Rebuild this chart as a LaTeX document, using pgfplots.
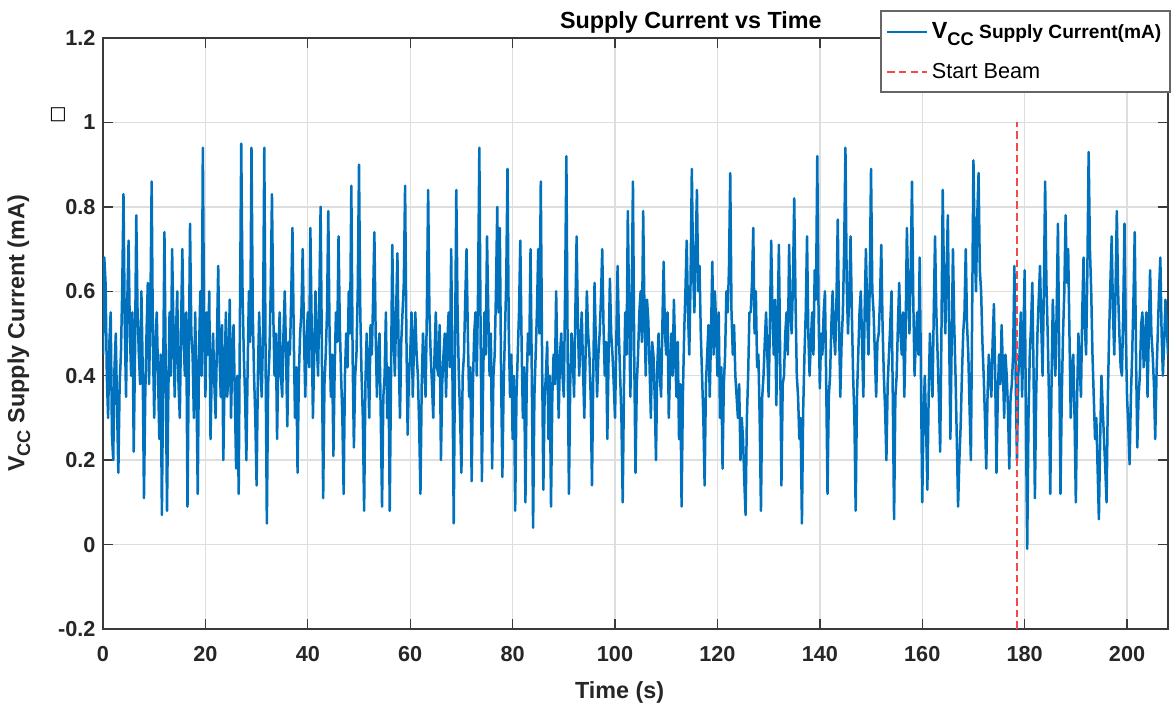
\documentclass[border=0pt]{standalone}
\usepackage{fontspec}
\setmainfont{Liberation Sans}
\newfontfamily\dejavu{DejaVu Sans}
\usepackage{pgfplots}
\usepackage{pgfplotstable}
\pgfplotsset{compat=1.18}
\definecolor{matBlue}{HTML}{0072BD}
\definecolor{beamRed}{HTML}{F24A4A}
\definecolor{gridGray}{HTML}{DEDEDE}
\definecolor{boxGray}{HTML}{3A3A3A}

% supply current samples, every 0.25 s
\pgfplotstableread[row sep=\\]{
t v\\
0 0.45\\ 0.25 0.68\\ 0.5 0.62\\ 0.75 0.40\\ 1 0.30\\ 1.25 0.48\\ 1.5 0.55\\ 1.75 0.26\\ 2 0.20\\ 2.25 0.42\\ 2.5 0.50\\ 2.75 0.32\\ 3 0.17\\ 3.25 0.38\\ 3.5 0.45\\ 3.75 0.60\\ 4 0.83\\ 4.25 0.52\\ 4.5 0.35\\ 4.75 0.58\\
5 0.72\\ 5.25 0.50\\ 5.5 0.40\\ 5.75 0.55\\ 6 0.22\\ 6.25 0.45\\ 6.5 0.78\\ 6.75 0.55\\ 7 0.45\\ 7.25 0.38\\ 7.5 0.60\\ 7.75 0.42\\ 8 0.11\\ 8.25 0.35\\ 8.5 0.50\\ 8.75 0.62\\ 9 0.38\\ 9.25 0.55\\ 9.5 0.86\\ 9.75 0.48\\
10 0.30\\ 10.25 0.48\\ 10.5 0.55\\ 10.75 0.40\\ 11 0.25\\ 11.25 0.45\\ 11.5 0.07\\ 11.75 0.40\\ 12 0.74\\ 12.25 0.42\\ 12.5 0.08\\ 12.75 0.35\\ 13 0.55\\ 13.25 0.40\\ 13.5 0.70\\ 13.75 0.52\\ 14 0.35\\ 14.25 0.50\\ 14.5 0.60\\ 14.75 0.38\\
15 0.30\\ 15.25 0.52\\ 15.5 0.70\\ 15.75 0.48\\ 16 0.40\\ 16.25 0.55\\ 16.5 0.09\\ 16.75 0.42\\ 17 0.76\\ 17.25 0.50\\ 17.5 0.45\\ 17.75 0.30\\ 18 0.55\\ 18.25 0.38\\ 18.5 0.12\\ 18.75 0.45\\ 19 0.60\\ 19.25 0.40\\ 19.5 0.94\\ 19.75 0.50\\
20 0.35\\ 20.25 0.55\\ 20.5 0.45\\ 20.75 0.60\\ 21 0.25\\ 21.25 0.42\\ 21.5 0.50\\ 21.75 0.38\\ 22 0.30\\ 22.25 0.48\\ 22.5 0.66\\ 22.75 0.45\\ 23 0.35\\ 23.25 0.52\\ 23.5 0.20\\ 23.75 0.40\\ 24 0.55\\ 24.25 0.35\\ 24.5 0.40\\ 24.75 0.58\\
25 0.30\\ 25.25 0.45\\ 25.5 0.52\\ 25.75 0.35\\ 26 0.18\\ 26.25 0.40\\ 26.5 0.12\\ 26.75 0.55\\ 27 0.95\\ 27.25 0.60\\ 27.5 0.45\\ 27.75 0.35\\ 28 0.20\\ 28.25 0.42\\ 28.5 0.60\\ 28.75 0.48\\ 29 0.94\\ 29.25 0.55\\ 29.5 0.40\\ 29.75 0.30\\
30 0.14\\ 30.25 0.40\\ 30.5 0.55\\ 30.75 0.42\\ 31 0.35\\ 31.25 0.50\\ 31.5 0.94\\ 31.75 0.45\\ 32 0.05\\ 32.25 0.38\\ 32.5 0.45\\ 32.75 0.60\\ 33 0.83\\ 33.25 0.55\\ 33.5 0.40\\ 33.75 0.50\\ 34 0.25\\ 34.25 0.45\\ 34.5 0.55\\ 34.75 0.40\\
35 0.35\\ 35.25 0.50\\ 35.5 0.60\\ 35.75 0.45\\ 36 0.28\\ 36.25 0.48\\ 36.5 0.45\\ 36.75 0.58\\ 37 0.75\\ 37.25 0.50\\ 37.5 0.30\\ 37.75 0.42\\ 38 0.17\\ 38.25 0.40\\ 38.5 0.50\\ 38.75 0.55\\ 39 0.70\\ 39.25 0.50\\ 39.5 0.35\\ 39.75 0.48\\
40 0.55\\ 40.25 0.42\\ 40.5 0.75\\ 40.75 0.52\\ 41 0.30\\ 41.25 0.45\\ 41.5 0.60\\ 41.75 0.48\\ 42 0.40\\ 42.25 0.58\\ 42.5 0.80\\ 42.75 0.45\\ 43 0.11\\ 43.25 0.38\\ 43.5 0.45\\ 43.75 0.55\\ 44 0.79\\ 44.25 0.50\\ 44.5 0.35\\ 44.75 0.45\\
45 0.21\\ 45.25 0.42\\ 45.5 0.55\\ 45.75 0.48\\ 46 0.73\\ 46.25 0.52\\ 46.5 0.40\\ 46.75 0.30\\ 47 0.12\\ 47.25 0.40\\ 47.5 0.50\\ 47.75 0.42\\ 48 0.60\\ 48.25 0.50\\ 48.5 0.85\\ 48.75 0.45\\ 49 0.23\\ 49.25 0.40\\ 49.5 0.45\\ 49.75 0.60\\
50 0.90\\ 50.25 0.55\\ 50.5 0.40\\ 50.75 0.30\\ 51 0.08\\ 51.25 0.38\\ 51.5 0.50\\ 51.75 0.42\\ 52 0.30\\ 52.25 0.52\\ 52.5 0.45\\ 52.75 0.58\\ 53 0.74\\ 53.25 0.50\\ 53.5 0.35\\ 53.75 0.45\\ 54 0.50\\ 54.25 0.30\\ 54.5 0.09\\ 54.75 0.35\\
55 0.40\\ 55.25 0.55\\ 55.5 0.30\\ 55.75 0.42\\ 56 0.08\\ 56.25 0.40\\ 56.5 0.71\\ 56.75 0.50\\ 57 0.40\\ 57.25 0.55\\ 57.5 0.69\\ 57.75 0.45\\ 58 0.30\\ 58.25 0.48\\ 58.5 0.55\\ 58.75 0.62\\ 59 0.85\\ 59.25 0.50\\ 59.5 0.26\\ 59.75 0.40\\
60 0.45\\ 60.25 0.55\\ 60.5 0.35\\ 60.75 0.48\\ 61 0.55\\ 61.25 0.45\\ 61.5 0.40\\ 61.75 0.28\\ 62 0.12\\ 62.25 0.38\\ 62.5 0.50\\ 62.75 0.42\\ 63 0.35\\ 63.25 0.55\\ 63.5 0.84\\ 63.75 0.55\\ 64 0.45\\ 64.25 0.38\\ 64.5 0.30\\ 64.75 0.45\\
65 0.55\\ 65.25 0.42\\ 65.5 0.40\\ 65.75 0.52\\ 66 0.20\\ 66.25 0.38\\ 66.5 0.45\\ 66.75 0.50\\ 67 0.35\\ 67.25 0.48\\ 67.5 0.55\\ 67.75 0.42\\ 68 0.70\\ 68.25 0.40\\ 68.5 0.05\\ 68.75 0.45\\ 69 0.84\\ 69.25 0.55\\ 69.5 0.40\\ 69.75 0.30\\
70 0.17\\ 70.25 0.40\\ 70.5 0.45\\ 70.75 0.58\\ 71 0.70\\ 71.25 0.50\\ 71.5 0.35\\ 71.75 0.42\\ 72 0.15\\ 72.25 0.38\\ 72.5 0.50\\ 72.75 0.55\\ 73 0.40\\ 73.25 0.60\\ 73.5 0.94\\ 73.75 0.50\\ 74 0.15\\ 74.25 0.40\\ 74.5 0.55\\ 74.75 0.45\\
75 0.73\\ 75.25 0.55\\ 75.5 0.40\\ 75.75 0.50\\ 76 0.18\\ 76.25 0.40\\ 76.5 0.45\\ 76.75 0.60\\ 77 0.80\\ 77.25 0.55\\ 77.5 0.75\\ 77.75 0.40\\ 78 0.16\\ 78.25 0.38\\ 78.5 0.50\\ 78.75 0.62\\ 79 0.89\\ 79.25 0.50\\ 79.5 0.35\\ 79.75 0.45\\
80 0.25\\ 80.25 0.40\\ 80.5 0.08\\ 80.75 0.35\\ 81 0.45\\ 81.25 0.55\\ 81.5 0.72\\ 81.75 0.48\\ 82 0.30\\ 82.25 0.42\\ 82.5 0.10\\ 82.75 0.38\\ 83 0.50\\ 83.25 0.45\\ 83.5 0.70\\ 83.75 0.40\\ 84 0.04\\ 84.25 0.35\\ 84.5 0.45\\ 84.75 0.55\\
85 0.70\\ 85.25 0.50\\ 85.5 0.86\\ 85.75 0.45\\ 86 0.13\\ 86.25 0.35\\ 86.5 0.40\\ 86.75 0.48\\ 87 0.25\\ 87.25 0.40\\ 87.5 0.09\\ 87.75 0.35\\ 88 0.45\\ 88.25 0.38\\ 88.5 0.60\\ 88.75 0.42\\ 89 0.30\\ 89.25 0.45\\ 89.5 0.50\\ 89.75 0.40\\
90 0.35\\ 90.25 0.60\\ 90.5 0.92\\ 90.75 0.45\\ 91 0.12\\ 91.25 0.38\\ 91.5 0.50\\ 91.75 0.45\\ 92 0.35\\ 92.25 0.55\\ 92.5 0.73\\ 92.75 0.52\\ 93 0.40\\ 93.25 0.48\\ 93.5 0.55\\ 93.75 0.42\\ 94 0.30\\ 94.25 0.45\\ 94.5 0.60\\ 94.75 0.50\\
95 0.45\\ 95.25 0.35\\ 95.5 0.14\\ 95.75 0.40\\ 96 0.62\\ 96.25 0.48\\ 96.5 0.35\\ 96.75 0.45\\ 97 0.50\\ 97.25 0.58\\ 97.5 0.70\\ 97.75 0.52\\ 98 0.40\\ 98.25 0.48\\ 98.5 0.25\\ 98.75 0.45\\ 99 0.63\\ 99.25 0.50\\ 99.5 0.45\\ 99.75 0.38\\
100 0.30\\ 100.25 0.48\\ 100.5 0.66\\ 100.75 0.50\\ 101 0.40\\ 101.25 0.30\\ 101.5 0.10\\ 101.75 0.38\\ 102 0.55\\ 102.25 0.45\\ 102.5 0.79\\ 102.75 0.55\\ 103 0.35\\ 103.25 0.58\\ 103.5 0.86\\ 103.75 0.45\\ 104 0.17\\ 104.25 0.38\\ 104.5 0.45\\ 104.75 0.55\\
105 0.60\\ 105.25 0.48\\ 105.5 0.79\\ 105.75 0.55\\ 106 0.40\\ 106.25 0.58\\ 106.5 0.53\\ 106.75 0.42\\ 107 0.30\\ 107.25 0.48\\ 107.5 0.45\\ 107.75 0.35\\ 108 0.20\\ 108.25 0.42\\ 108.5 0.50\\ 108.75 0.40\\ 109 0.35\\ 109.25 0.52\\ 109.5 0.67\\ 109.75 0.50\\
110 0.45\\ 110.25 0.55\\ 110.5 0.30\\ 110.75 0.42\\ 111 0.50\\ 111.25 0.40\\ 111.5 0.58\\ 111.75 0.45\\ 112 0.35\\ 112.25 0.48\\ 112.5 0.25\\ 112.75 0.38\\ 113 0.09\\ 113.25 0.35\\ 113.5 0.50\\ 113.75 0.60\\ 114 0.72\\ 114.25 0.55\\ 114.5 0.45\\ 114.75 0.62\\
115 0.89\\ 115.25 0.65\\ 115.5 0.55\\ 115.75 0.70\\ 116 0.84\\ 116.25 0.60\\ 116.5 0.66\\ 116.75 0.50\\ 117 0.40\\ 117.25 0.30\\ 117.5 0.14\\ 117.75 0.38\\ 118 0.45\\ 118.25 0.52\\ 118.5 0.35\\ 118.75 0.50\\ 119 0.67\\ 119.25 0.45\\ 119.5 0.60\\ 119.75 0.52\\
120 0.40\\ 120.25 0.55\\ 120.5 0.30\\ 120.75 0.42\\ 121 0.18\\ 121.25 0.38\\ 121.5 0.45\\ 121.75 0.60\\ 122 0.55\\ 122.25 0.65\\ 122.5 0.88\\ 122.75 0.55\\ 123 0.45\\ 123.25 0.52\\ 123.5 0.40\\ 123.75 0.35\\ 124 0.30\\ 124.25 0.38\\ 124.5 0.20\\ 124.75 0.30\\
125 0.25\\ 125.25 0.15\\ 125.5 0.07\\ 125.75 0.30\\ 126 0.40\\ 126.25 0.55\\ 126.5 0.55\\ 126.75 0.62\\ 127 0.75\\ 127.25 0.50\\ 127.5 0.60\\ 127.75 0.42\\ 128 0.45\\ 128.25 0.30\\ 128.5 0.08\\ 128.75 0.35\\ 129 0.40\\ 129.25 0.48\\ 129.5 0.55\\ 129.75 0.45\\
130 0.35\\ 130.25 0.52\\ 130.5 0.72\\ 130.75 0.55\\ 131 0.45\\ 131.25 0.58\\ 131.5 0.33\\ 131.75 0.50\\ 132 0.71\\ 132.25 0.45\\ 132.5 0.14\\ 132.75 0.38\\ 133 0.40\\ 133.25 0.50\\ 133.5 0.55\\ 133.75 0.45\\ 134 0.71\\ 134.25 0.55\\ 134.5 0.50\\ 134.75 0.62\\
135 0.82\\ 135.25 0.58\\ 135.5 0.40\\ 135.75 0.35\\ 136 0.25\\ 136.25 0.30\\ 136.5 0.05\\ 136.75 0.32\\ 137 0.45\\ 137.25 0.55\\ 137.5 0.73\\ 137.75 0.50\\ 138 0.40\\ 138.25 0.48\\ 138.5 0.55\\ 138.75 0.45\\ 139 0.65\\ 139.25 0.58\\ 139.5 0.92\\ 139.75 0.55\\
140 0.37\\ 140.25 0.50\\ 140.5 0.45\\ 140.75 0.55\\ 141 0.60\\ 141.25 0.38\\ 141.5 0.12\\ 141.75 0.35\\ 142 0.40\\ 142.25 0.52\\ 142.5 0.60\\ 142.75 0.50\\ 143 0.45\\ 143.25 0.58\\ 143.5 0.77\\ 143.75 0.52\\ 144 0.35\\ 144.25 0.48\\ 144.5 0.55\\ 144.75 0.70\\
145 0.94\\ 145.25 0.62\\ 145.5 0.50\\ 145.75 0.60\\ 146 0.73\\ 146.25 0.55\\ 146.5 0.40\\ 146.75 0.30\\ 147 0.08\\ 147.25 0.35\\ 147.5 0.45\\ 147.75 0.55\\ 148 0.60\\ 148.25 0.48\\ 148.5 0.35\\ 148.75 0.55\\ 149 0.70\\ 149.25 0.55\\ 149.5 0.45\\ 149.75 0.62\\
150 0.89\\ 150.25 0.60\\ 150.5 0.55\\ 150.75 0.45\\ 151 0.35\\ 151.25 0.48\\ 151.5 0.50\\ 151.75 0.58\\ 152 0.71\\ 152.25 0.52\\ 152.5 0.40\\ 152.75 0.32\\ 153 0.20\\ 153.25 0.38\\ 153.5 0.45\\ 153.75 0.52\\ 154 0.60\\ 154.25 0.35\\ 154.5 0.06\\ 154.75 0.35\\
155 0.40\\ 155.25 0.52\\ 155.5 0.62\\ 155.75 0.50\\ 156 0.45\\ 156.25 0.55\\ 156.5 0.35\\ 156.75 0.50\\ 157 0.75\\ 157.25 0.60\\ 157.5 0.50\\ 157.75 0.65\\ 158 0.86\\ 158.25 0.58\\ 158.5 0.40\\ 158.75 0.48\\ 159 0.55\\ 159.25 0.45\\ 159.5 0.68\\ 159.75 0.40\\
160 0.10\\ 160.25 0.30\\ 160.5 0.40\\ 160.75 0.28\\ 161 0.13\\ 161.25 0.35\\ 161.5 0.50\\ 161.75 0.42\\ 162 0.35\\ 162.25 0.55\\ 162.5 0.73\\ 162.75 0.55\\ 163 0.45\\ 163.25 0.35\\ 163.5 0.22\\ 163.75 0.50\\ 164 0.84\\ 164.25 0.62\\ 164.5 0.50\\ 164.75 0.65\\
165 0.78\\ 165.25 0.50\\ 165.5 0.25\\ 165.75 0.48\\ 166 0.70\\ 166.25 0.52\\ 166.5 0.40\\ 166.75 0.25\\ 167 0.09\\ 167.25 0.20\\ 167.5 0.28\\ 167.75 0.40\\ 168 0.50\\ 168.25 0.55\\ 168.5 0.70\\ 168.75 0.52\\ 169 0.45\\ 169.25 0.32\\ 169.5 0.20\\ 169.75 0.55\\
170 0.91\\ 170.25 0.70\\ 170.5 0.60\\ 170.75 0.78\\ 171 0.88\\ 171.25 0.65\\ 171.5 0.60\\ 171.75 0.48\\ 172 0.40\\ 172.25 0.30\\ 172.5 0.18\\ 172.75 0.35\\ 173 0.45\\ 173.25 0.40\\ 173.5 0.35\\ 173.75 0.48\\ 174 0.57\\ 174.25 0.40\\ 174.5 0.17\\ 174.75 0.35\\
175 0.45\\ 175.25 0.38\\ 175.5 0.52\\ 175.75 0.42\\ 176 0.30\\ 176.25 0.45\\ 176.5 0.40\\ 176.75 0.32\\ 177 0.18\\ 177.25 0.35\\ 177.5 0.38\\ 177.75 0.45\\ 178 0.66\\ 178.25 0.40\\ 178.5 0.20\\ 178.75 0.40\\ 179 0.45\\ 179.25 0.55\\ 179.5 0.35\\ 179.75 0.48\\
180 0.65\\ 180.25 0.30\\ 180.5 -0.01\\ 180.75 0.30\\ 181 0.45\\ 181.25 0.52\\ 181.5 0.62\\ 181.75 0.40\\ 182 0.11\\ 182.25 0.35\\ 182.5 0.50\\ 182.75 0.58\\ 183 0.66\\ 183.25 0.52\\ 183.5 0.40\\ 183.75 0.60\\ 184 0.86\\ 184.25 0.62\\ 184.5 0.50\\ 184.75 0.35\\
185 0.12\\ 185.25 0.38\\ 185.5 0.58\\ 185.75 0.48\\ 186 0.40\\ 186.25 0.55\\ 186.5 0.76\\ 186.75 0.45\\ 187 0.12\\ 187.25 0.35\\ 187.5 0.50\\ 187.75 0.60\\ 188 0.78\\ 188.25 0.62\\ 188.5 0.70\\ 188.75 0.50\\ 189 0.30\\ 189.25 0.42\\ 189.5 0.45\\ 189.75 0.30\\
190 0.10\\ 190.25 0.35\\ 190.5 0.50\\ 190.75 0.42\\ 191 0.35\\ 191.25 0.55\\ 191.5 0.68\\ 191.75 0.52\\ 192 0.45\\ 192.25 0.65\\ 192.5 0.93\\ 192.75 0.70\\ 193 0.60\\ 193.25 0.45\\ 193.5 0.35\\ 193.75 0.25\\ 194 0.30\\ 194.25 0.18\\ 194.5 0.06\\ 194.75 0.25\\
195 0.40\\ 195.25 0.32\\ 195.5 0.25\\ 195.75 0.18\\ 196 0.10\\ 196.25 0.35\\ 196.5 0.50\\ 196.75 0.62\\ 197 0.73\\ 197.25 0.55\\ 197.5 0.45\\ 197.75 0.60\\ 198 0.79\\ 198.25 0.60\\ 198.5 0.50\\ 198.75 0.42\\ 199 0.40\\ 199.25 0.55\\ 199.5 0.76\\ 199.75 0.50\\
200 0.35\\ 200.25 0.28\\ 200.5 0.19\\ 200.75 0.35\\ 201 0.45\\ 201.25 0.58\\ 201.5 0.74\\ 201.75 0.45\\ 202 0.23\\ 202.25 0.35\\ 202.5 0.40\\ 202.75 0.52\\ 203 0.55\\ 203.25 0.42\\ 203.5 0.48\\ 203.75 0.55\\ 204 0.35\\ 204.25 0.50\\ 204.5 0.65\\ 204.75 0.50\\
205 0.45\\ 205.25 0.38\\ 205.5 0.25\\ 205.75 0.40\\ 206 0.50\\ 206.25 0.60\\ 206.5 0.68\\ 206.75 0.50\\ 207 0.40\\ 207.25 0.48\\ 207.5 0.58\\ 207.75 0.52\\ 208 0.45\\
}\vccdata

\begin{document}
\begin{tikzpicture}
\begin{axis}[
    scale only axis,
    width=639pt, height=354.6pt,
    xmin=0, xmax=208, ymin=-0.2, ymax=1.2,
    xtick={0,20,...,200},
    ytick={-0.2,0,0.2,0.4,0.6,0.8,1,1.2},
    tick pos=both, tick align=inside,
    major tick length=6pt,
    every tick/.style={boxGray, line width=0.8pt},
    axis line style={boxGray, line width=1.4pt},
    grid=major,
    major grid style={gridGray, line width=0.8pt},
    /pgf/number format/assume math mode=true,
    /pgf/number format/fixed,
    tick label style={font=\bfseries\fontsize{13}{15}\selectfont, color=black!85},
    y tick label style={xshift=-1pt},
    x tick label style={yshift=-7pt},
    xlabel={Time (s)},
    ylabel={V\raisebox{-0.45ex}{\fontsize{11}{12}\selectfont CC} Supply Current (mA)},
    label style={font=\bfseries\fontsize{14}{16}\selectfont, color=black!85},
    x label style={at={(axis description cs:0.485,-0.107)}, anchor=center},
    y label style={at={(axis description cs:-0.079,0.5)}, anchor=center},
    title={Supply Current vs Time},
    title style={font=\bfseries\fontsize{14}{16}\selectfont, at={(axis description cs:0.552,1)}, anchor=south, yshift=-7pt},
    legend style={at={(rel axis cs:0.7296,1.047)}, anchor=north west,
        draw=gray!80!black, line width=1.2pt, fill=white,
        inner xsep=3pt, inner ysep=5pt, row sep=9pt,
        cells={anchor=west}},
    legend image code/.code={\draw[#1] (0pt,0pt) -- (24pt,0pt);},
    clip=true,
]
\addplot[color=matBlue, line width=1.5pt, line join=round] table[x=t, y=v] {\vccdata};
\addlegendentry{\bfseries\fontsize{14}{16}\selectfont V\raisebox{-0.5ex}{\fontsize{11}{12}\selectfont CC}\fontsize{11.5}{13}\selectfont\ Supply Current(mA)}
\addplot[color=beamRed, line width=1.2pt, dash pattern=on 4.5pt off 2.5pt] coordinates {(178.6,-0.2) (178.6,1.0)};
\addlegendentry{\fontsize{13}{15}\selectfont Start Beam}
\coordinate (A) at (rel axis cs:0,0);
\coordinate (B) at (rel axis cs:1,1);
\end{axis}
\node[font=\dejavu\fontsize{11}{11}\selectfont, inner sep=0pt] at ([xshift=-27pt,yshift=308.4pt]A) {□};
\pgfresetboundingbox
\path[use as bounding box] ([xshift=-61.8pt,yshift=-47.4pt]A) rectangle ([xshift=4.8pt,yshift=22.8pt]B);
\end{tikzpicture}
\end{document}
